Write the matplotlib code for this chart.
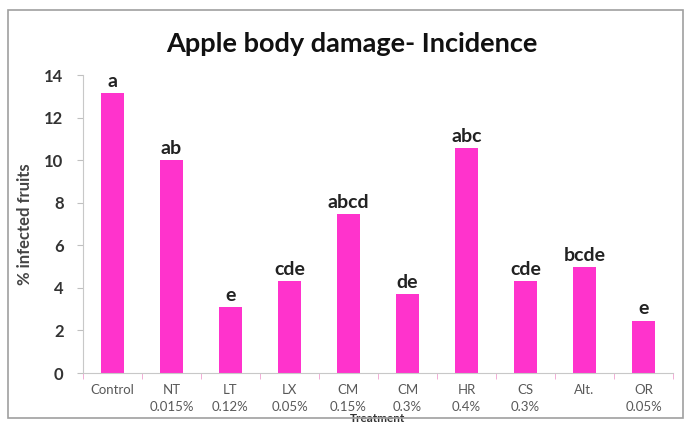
import matplotlib
matplotlib.use("Agg")
import matplotlib.pyplot as plt
from matplotlib.patches import Rectangle

# data
treatments = ["Control", "NT\n0.015%", "LT\n0.12%", "LX\n0.05%", "CM\n0.15%",
              "CM\n0.3%", "HR\n0.4%", "CS\n0.3%", "Alt.", "OR\n0.05%"]
incidence = [13.15, 10.0, 3.11, 4.33, 7.45, 3.7, 10.58, 4.33, 4.96, 2.46]
letters = ["a", "ab", "e", "cde", "abcd", "de", "abc", "cde", "bcde", "e"]

plt.rcParams['font.family'] = ['Lato', 'DejaVu Sans']

fig = plt.figure(figsize=(6.88, 4.33), dpi=100)
ax = fig.add_axes([83 / 688, 1 - 373 / 433, 590 / 688, 298 / 433])

# outer chart frame
fig.patches.append(Rectangle((8 / 688, 1 - 418 / 433), 675 / 688, 408 / 433,
                             transform=fig.transFigure, fill=False,
                             edgecolor="#a0a0a0", linewidth=1.2))

x = list(range(len(treatments)))
ax.bar(x, incidence, width=0.39, color="#ff33cc")

for xi, v, lab in zip(x, incidence, letters):
    ax.text(xi, v + 0.15, lab, ha="center", va="bottom", fontsize=14,
            fontweight="bold", color="#222222")

ax.set_xlim(-0.5, len(treatments) - 0.5)
ax.set_ylim(0, 14)
ax.set_yticks(range(0, 15, 2))
ax.set_yticklabels([str(t) for t in range(0, 15, 2)], fontsize=12,
                   fontweight="bold", color="#333333")
ax.set_xticks(x)
ax.set_xticklabels(treatments, fontsize=9.5, color="#595959", linespacing=1.5)
ax.tick_params(axis="x", length=0, pad=8)
ax.tick_params(axis="y", length=4, color="#c0c0c0", pad=10)
# category-boundary ticks on the x axis
ax.set_xticks([i - 0.5 for i in range(len(treatments) + 1)], minor=True)
ax.tick_params(axis="x", which="minor", length=4, color="#f0a0d0")

for s in ["top", "right"]:
    ax.spines[s].set_visible(False)
ax.spines["left"].set_color("#c8c8c8")
ax.spines["bottom"].set_color("#c8c8c8")

ax.set_ylabel("% infected fruits", fontsize=12, fontweight="bold",
              color="#444444", labelpad=8)
ax.set_xlabel("Treatment", fontsize=8.5, fontweight="bold", color="#333333",
              labelpad=0)

fig.text(352 / 688, 1 - 44 / 433, "Apple body damage- Incidence", ha="center",
         va="center", fontsize=19.5, fontweight="bold", color="#111111")

fig.savefig("out.png", dpi=100)
